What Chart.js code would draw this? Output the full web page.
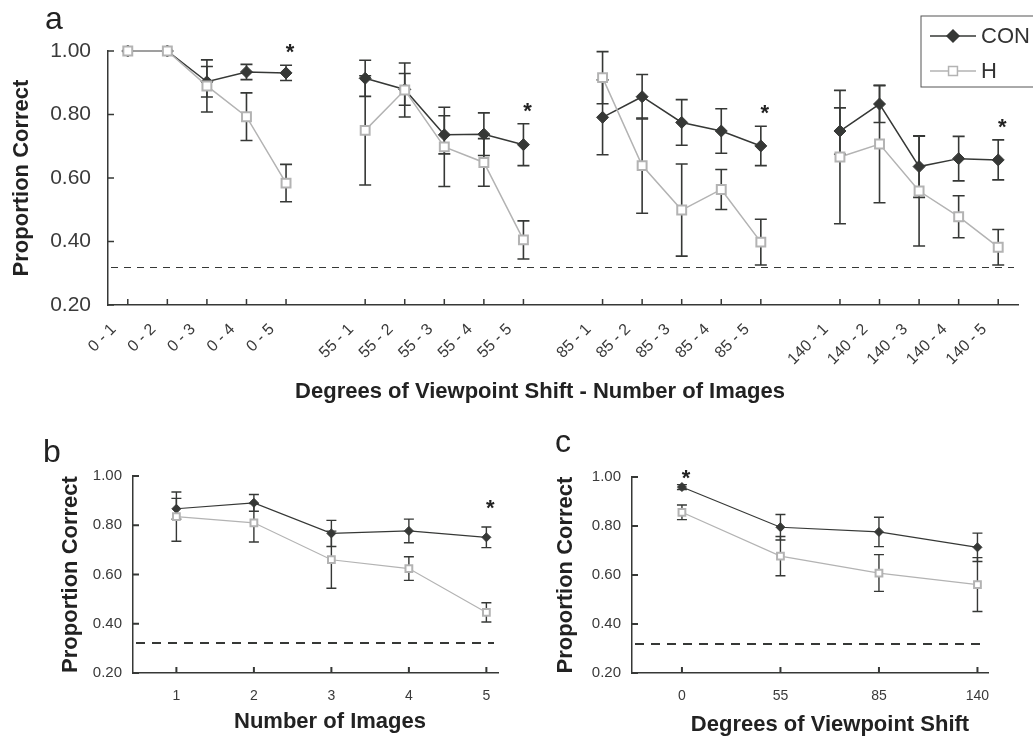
<!DOCTYPE html>
<html>
<head>
<meta charset="utf-8">
<style>
    body { margin: 0; background: #fff; }
    #wrap { position: relative; width: 1033px; height: 740px; overflow: hidden; }
    canvas { position: absolute; }
</style>
</head>
<body>
<div id="wrap">
    <canvas id="chartA" width="1033" height="412" style="left:0;top:0;width:1033px;height:412px"></canvas>
    <canvas id="chartB" width="520" height="320" style="left:0;top:420px;width:520px;height:320px"></canvas>
    <canvas id="chartC" width="513" height="320" style="left:520px;top:420px;width:513px;height:320px"></canvas>
</div>
<script src="https://cdn.jsdelivr.net/npm/chart.js@4/dist/chart.umd.min.js"></script>
<script>
    // panel a: viewpoint shift - number of images (blank slots separate the groups)
    const conditionsA = [
        "0 - 1", "0 - 2", "0 - 3", "0 - 4", "0 - 5", "",
        "55 - 1", "55 - 2", "55 - 3", "55 - 4", "55 - 5", "",
        "85 - 1", "85 - 2", "85 - 3", "85 - 4", "85 - 5", "",
        "140 - 1", "140 - 2", "140 - 3", "140 - 4", "140 - 5"
    ];
    const conA = [1.00, 1.00, 0.903, 0.934, 0.931, null,
                  0.914, 0.879, 0.736, 0.738, 0.705, null,
                  0.791, 0.856, 0.775, 0.748, 0.701, null,
                  0.748, 0.833, 0.636, 0.661, 0.657];
    const conErrA = [0, 0, 0.048, 0.024, 0.024, null,
                     0.057, 0.050, 0.060, 0.067, 0.066, null,
                     0.118, 0.070, 0.072, 0.070, 0.062, null,
                     0.073, 0.058, 0.097, 0.070, 0.063];
    const hA = [1.00, 1.00, 0.890, 0.793, 0.584, null,
                0.750, 0.877, 0.698, 0.649, 0.405, null,
                0.916, 0.639, 0.499, 0.564, 0.398, null,
                0.666, 0.707, 0.559, 0.478, 0.382];
    const hErrA = [0, 0, 0.082, 0.075, 0.059, null,
                   0.172, 0.085, 0.125, 0.075, 0.060, null,
                   0.082, 0.150, 0.145, 0.063, 0.072, null,
                   0.210, 0.185, 0.173, 0.066, 0.056];
    const starsA = ["0 - 5", "55 - 5", "85 - 5", "140 - 5"];

    // panel b: number of images
    const imageCounts = [1, 2, 3, 4, 5];
    const conB = [0.867, 0.891, 0.767, 0.777, 0.751];
    const conErrB = [0.042, 0.034, 0.053, 0.048, 0.042];
    const hB = [0.835, 0.810, 0.660, 0.624, 0.446];
    const hErrB = [0.100, 0.078, 0.116, 0.048, 0.039];
    const starsB = [5];

    // panel c: degrees of viewpoint shift
    const shiftLabels = ["0", "55", "85", "140"];
    const conC = [0.959, 0.795, 0.776, 0.713];
    const conErrC = [0.010, 0.052, 0.060, 0.058];
    const hC = [0.856, 0.677, 0.608, 0.561];
    const hErrC = [0.030, 0.080, 0.075, 0.110];
    const starsC = ["0"];

    const yTicks = [0.20, 0.40, 0.60, 0.80, 1.00];
    const chanceLevel = 0.32;

    const DARK = "#363836";
    const LIGHT = "#b3b3b3";
    const FONT = "'Liberation Sans', Arial, sans-serif";
    Chart.defaults.font.family = FONT;
    Chart.defaults.color = "#333";

    function val(d) {
        return (d !== null && typeof d === "object") ? d.y : d;
    }

    // chance line, error bars, inward ticks, stars, legend, panel text
    const figPlugin = {
        id: "fig",
        beforeDatasetsDraw(chart, args, o) {
            const { ctx, chartArea, scales: { y } } = chart;
            ctx.save();
            let cy = Math.round(y.getPixelForValue(chanceLevel));
            if (o.chanceWidth % 2) cy += 0.5;
            ctx.strokeStyle = DARK;
            ctx.lineWidth = o.chanceWidth;
            ctx.setLineDash(o.chanceDash);
            ctx.beginPath();
            ctx.moveTo(chartArea.left + 3, cy);
            ctx.lineTo(chartArea.right - 4, cy);
            ctx.stroke();
            ctx.setLineDash([]);

            ctx.lineWidth = o.barWidth;
            o.errors.forEach((errs, di) => {
                const ds = chart.data.datasets[di];
                const meta = chart.getDatasetMeta(di);
                meta.data.forEach((pt, i) => {
                    const v = val(ds.data[i]);
                    const e = errs[i];
                    if (v == null || !e) return;
                    const y1 = y.getPixelForValue(v + e);
                    const y2 = y.getPixelForValue(v - e);
                    ctx.beginPath();
                    ctx.moveTo(pt.x, y1); ctx.lineTo(pt.x, y2);
                    ctx.moveTo(pt.x - o.cap, y1); ctx.lineTo(pt.x + o.cap, y1);
                    ctx.moveTo(pt.x - o.cap, y2); ctx.lineTo(pt.x + o.cap, y2);
                    ctx.stroke();
                });
            });
            ctx.restore();
        },
        afterDraw(chart, args, o) {
            const { ctx, chartArea, scales: { x, y } } = chart;
            ctx.save();
            // inward tick marks
            ctx.strokeStyle = DARK;
            ctx.lineWidth = o.tickWidth;
            ctx.beginPath();
            x.ticks.forEach((t, i) => {
                if (x.type === "category" && conditionsA[t.value] === "") return;
                const px = x.getPixelForTick(i);
                ctx.moveTo(px, chartArea.bottom);
                ctx.lineTo(px, chartArea.bottom - o.tickLen);
            });
            y.ticks.forEach((t, i) => {
                const py = y.getPixelForTick(i);
                ctx.moveTo(chartArea.left, py);
                ctx.lineTo(chartArea.left + o.tickLen, py);
            });
            ctx.stroke();

            // significance stars above the CON upper bar
            const ds = chart.data.datasets[0];
            const meta = chart.getDatasetMeta(0);
            ctx.fillStyle = "#222";
            ctx.font = "bold " + o.starSize + "px " + FONT;
            ctx.textAlign = "center";
            ctx.textBaseline = "middle";
            o.stars.forEach(i => {
                const v = val(ds.data[i]);
                const top = y.getPixelForValue(v + o.errors[0][i]);
                ctx.fillText("*", meta.data[i].x + 4, top - o.starLift);
            });

            // panel letter and x axis title
            ctx.font = "32px " + FONT;
            ctx.textAlign = "left";
            ctx.textBaseline = "alphabetic";
            ctx.fillStyle = "#222";
            ctx.fillText(o.letter.text, o.letter.x, o.letter.y);
            ctx.font = "bold 22px " + FONT;
            ctx.textAlign = "center";
            ctx.textBaseline = "middle";
            ctx.fillText(o.xTitle.text, o.xTitle.x, o.xTitle.y);

            // legend box
            if (o.legend) {
                const L = o.legend;
                ctx.strokeStyle = "#555";
                ctx.lineWidth = 1;
                ctx.strokeRect(L.x, L.y, L.w, L.h);
                chart.data.datasets.forEach((d, i) => {
                    const ry = L.y + L.rows[i];
                    ctx.strokeStyle = d.borderColor;
                    ctx.lineWidth = d.borderWidth;
                    ctx.beginPath();
                    ctx.moveTo(L.x + 9, ry); ctx.lineTo(L.x + 55, ry);
                    ctx.stroke();
                    ctx.fillStyle = d.pointBackgroundColor;
                    ctx.strokeStyle = d.pointBorderColor;
                    Chart.helpers.drawPoint(ctx, {
                        pointStyle: d.pointStyle, radius: d.pointRadius,
                        borderWidth: d.pointBorderWidth, rotation: 0
                    }, L.x + 32, ry);
                    ctx.fillStyle = "#333";
                    ctx.font = "22px " + FONT;
                    ctx.textAlign = "left";
                    ctx.textBaseline = "middle";
                    ctx.fillText(d.label, L.x + 60, ry + 1);
                });
            }
            ctx.restore();
        }
    };

    function conSet(data, r, w) {
        return {
            label: "CON", data: data, order: 2,
            borderColor: DARK, borderWidth: w,
            pointStyle: "rectRot", pointRadius: r,
            pointBackgroundColor: DARK, pointBorderColor: DARK, pointBorderWidth: 1,
            clip: false, spanGaps: false
        };
    }
    function hSet(data, r, w) {
        return {
            label: "H", data: data, order: 1,
            borderColor: LIGHT, borderWidth: w,
            pointStyle: "rect", pointRadius: r,
            pointBackgroundColor: "#fff", pointBorderColor: LIGHT, pointBorderWidth: 2,
            clip: false, spanGaps: false
        };
    }
    function yScale(width, tickSize, tickPad, titlePad) {
        return {
            min: 0.2, max: 1.0,
            afterFit: s => { s.width = width; },
            afterBuildTicks: s => { s.ticks = yTicks.map(v => ({ value: v })); },
            ticks: { callback: v => v.toFixed(2), font: { size: tickSize }, color: "#3a3a3a", padding: tickPad },
            grid: { display: false, drawTicks: false },
            border: { display: true, color: DARK, width: 1.5 },
            title: {
                display: true, text: "Proportion Correct", color: "#222",
                font: { size: 22, weight: "bold" }, padding: { top: titlePad, bottom: 0 }
            }
        };
    }
    const common = {
        responsive: false,
        animation: false,
        events: [],
        plugins: { legend: { display: false }, tooltip: { enabled: false } }
    };

    new Chart("chartA", {
        type: "line",
        data: {
            labels: conditionsA,
            datasets: [conSet(conA, 6, 1.5), hSet(hA, 6.3, 1.5)]
        },
        options: {
            ...common,
            layout: { padding: { top: 51, right: 15, left: 0, bottom: 0 } },
            scales: {
                x: {
                    type: "category", offset: true,
                    afterFit: s => { s.height = 107; },
                    ticks: { autoSkip: false, minRotation: 45, maxRotation: 45, font: { size: 16 },
                             color: "#3a3a3a", padding: 15, labelOffset: -14 },
                    grid: { display: false, drawTicks: false },
                    border: { display: true, color: DARK, width: 1.5 }
                },
                y: yScale(108, 21, 17, 9)
            },
            plugins: {
                ...common.plugins,
                fig: {
                    errors: [conErrA, hErrA], cap: 6, barWidth: 1.6,
                    chanceWidth: 1, chanceDash: [7, 6],
                    tickLen: 6, tickWidth: 1.5,
                    stars: starsA.map(s => conditionsA.indexOf(s)), starSize: 22, starLift: 12,
                    letter: { text: "a", x: 45, y: 29 },
                    xTitle: { text: "Degrees of Viewpoint Shift - Number of Images", x: 540, y: 392 },
                    legend: { x: 921, y: 16, w: 125, h: 71, rows: [20, 55] }
                }
            }
        },
        plugins: [figPlugin]
    });

    new Chart("chartB", {
        type: "line",
        data: {
            datasets: [
                conSet(imageCounts.map((n, i) => ({ x: n, y: conB[i] })), 4.5, 1.2),
                hSet(imageCounts.map((n, i) => ({ x: n, y: hB[i] })), 4.8, 1.2)
            ]
        },
        options: {
            ...common,
            layout: { padding: { top: 56, right: 22, left: 0, bottom: 0 } },
            scales: {
                x: {
                    type: "linear", min: 0.44, max: 5.15,
                    afterFit: s => { s.height = 67; },
                    afterBuildTicks: s => { s.ticks = imageCounts.map(v => ({ value: v })); },
                    ticks: { font: { size: 14 }, color: "#3a3a3a", padding: 15 },
                    grid: { display: false, drawTicks: false },
                    border: { display: true, color: DARK, width: 1.5 }
                },
                y: yScale(133, 15, 11, 58)
            },
            plugins: {
                ...common.plugins,
                fig: {
                    errors: [conErrB, hErrB], cap: 5, barWidth: 1.4,
                    chanceWidth: 2, chanceDash: [9, 7],
                    tickLen: 6, tickWidth: 2,
                    stars: starsB.map(s => imageCounts.indexOf(s)), starSize: 22, starLift: 18,
                    letter: { text: "b", x: 43, y: 42 },
                    xTitle: { text: "Number of Images", x: 330, y: 302 }
                }
            }
        },
        plugins: [figPlugin]
    });

    new Chart("chartC", {
        type: "line",
        data: {
            datasets: [
                conSet(shiftLabels.map((s, i) => ({ x: i, y: conC[i] })), 4.5, 1.2),
                hSet(shiftLabels.map((s, i) => ({ x: i, y: hC[i] })), 4.8, 1.2)
            ]
        },
        options: {
            ...common,
            layout: { padding: { top: 57, right: 45, left: 0, bottom: 0 } },
            scales: {
                x: {
                    type: "linear", min: -0.507, max: 3.107,
                    afterFit: s => { s.height = 67; },
                    afterBuildTicks: s => { s.ticks = shiftLabels.map((v, i) => ({ value: i })); },
                    ticks: { callback: v => shiftLabels[v], font: { size: 14 }, color: "#3a3a3a", padding: 15 },
                    grid: { display: false, drawTicks: false },
                    border: { display: true, color: DARK, width: 1.5 }
                },
                y: yScale(112, 15, 11, 33)
            },
            plugins: {
                ...common.plugins,
                fig: {
                    errors: [conErrC, hErrC], cap: 5, barWidth: 1.4,
                    chanceWidth: 2, chanceDash: [9, 7],
                    tickLen: 6, tickWidth: 2,
                    stars: starsC.map(s => shiftLabels.indexOf(s)), starSize: 22, starLift: 6,
                    letter: { text: "c", x: 35, y: 32 },
                    xTitle: { text: "Degrees of Viewpoint Shift", x: 310, y: 305 }
                }
            }
        },
        plugins: [figPlugin]
    });
</script>
</body>
</html>
